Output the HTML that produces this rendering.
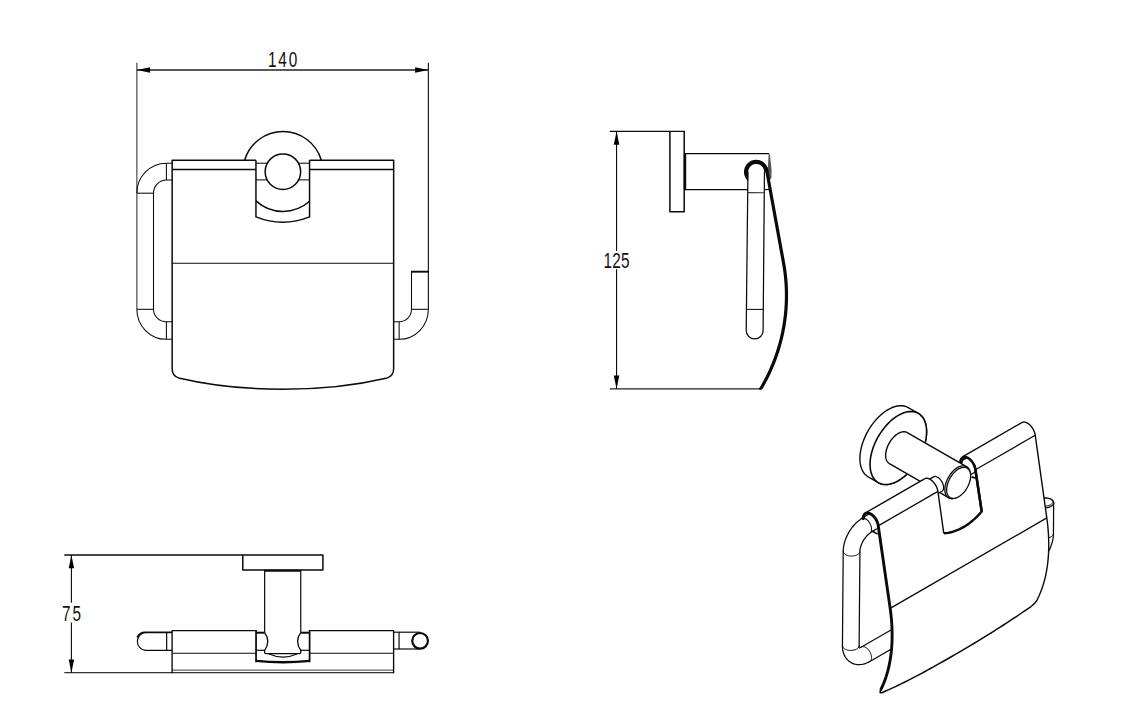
<!DOCTYPE html>
<html lang="en">
<head>
<meta charset="utf-8">
<title>Toilet paper holder with cover - dimensional drawing</title>
<style>
html,body{margin:0;padding:0;background:#fff;}
body{width:1122px;height:701px;overflow:hidden;}
svg{display:block;font-family:"Liberation Sans",sans-serif;}
</style>
</head>
<body>
<svg width="1122" height="701" viewBox="0 0 1122 701" stroke-linecap="butt" stroke-linejoin="round">
<rect width="1122" height="701" fill="#ffffff"/>
<g id="front-view">
<line x1="136.85" y1="62.8" x2="136.85" y2="193.2" stroke="#555" stroke-width="1.3" />
<line x1="428.35" y1="62.8" x2="428.35" y2="309.3" stroke="#0a0a0a" stroke-width="1.1" />
<line x1="136.85" y1="70" x2="428.35" y2="70" stroke="#222" stroke-width="1.3" />
<polygon points="136.85,70 150.05,67.3 150.05,72.7" fill="#000"/>
<polygon points="428.35,70 415.15,72.7 415.15,67.3" fill="#000"/>
<text transform="translate(283.5 66.7) scale(0.72 1)" text-anchor="middle" font-size="21.3" letter-spacing="2.5" fill="#111">140</text>
<path d="M244.67 160.2 A39.95 39.95 0 0 1 321.33 160.2" fill="none" stroke="#0a0a0a" stroke-width="1.5" />
<path d="M255.95 200.85 A39.95 39.95 0 0 0 309.55 201.3" fill="none" stroke="#0a0a0a" stroke-width="1.5" />
<circle cx="282.9" cy="171.65" r="17.75" fill="none" stroke="#0a0a0a" stroke-width="1.5"/>
<line x1="255.95" y1="163.2" x2="267.29" y2="163.2" stroke="#0a0a0a" stroke-width="1.05" />
<line x1="298.51" y1="163.2" x2="309.55" y2="163.2" stroke="#0a0a0a" stroke-width="1.05" />
<line x1="255.95" y1="179.9" x2="267.18" y2="179.9" stroke="#0a0a0a" stroke-width="1.05" />
<line x1="298.62" y1="179.9" x2="309.55" y2="179.9" stroke="#0a0a0a" stroke-width="1.05" />
<path d="M255.95 160.2 L172.15 160.2 L172.15 368.5 C172.15 373.5 174.2 376.6 178.6 377.9 C213 386 248 389.2 283 389.2 C318 389.2 353 386 387.2 377.9 C391.6 376.6 393.65 373.5 393.65 368.5 L393.65 160.2 L309.55 160.2" fill="none" stroke="#0a0a0a" stroke-width="1.5" />
<path d="M255.95 160.2 L255.95 216.9 Q282.75 227.6 309.55 216.9 L309.55 160.2" fill="none" stroke="#0a0a0a" stroke-width="1.5" />
<line x1="172.15" y1="169.5" x2="255.95" y2="169.5" stroke="#0a0a0a" stroke-width="1.5" />
<line x1="309.55" y1="169.5" x2="393.65" y2="169.5" stroke="#0a0a0a" stroke-width="1.5" />
<line x1="172.15" y1="263.25" x2="393.65" y2="263.25" stroke="#0a0a0a" stroke-width="1.2" />
<path d="M172.15 163.2 L166.4 163.2 A29.55 30 0 0 0 136.85 193.2" fill="none" stroke="#0a0a0a" stroke-width="1.05" />
<path d="M172.15 179.9 L166.4 179.9 A12.9 13.3 0 0 0 153.5 193.2 L153.5 309.3 A12.9 12.5 0 0 0 166.4 321.8 L172.15 321.8" fill="none" stroke="#0a0a0a" stroke-width="1.05" />
<line x1="136.85" y1="193.2" x2="136.85" y2="309.3" stroke="#555" stroke-width="1.3" />
<path d="M136.85 309.3 A29.55 30 0 0 0 166.4 339.3 L172.15 339.3" fill="none" stroke="#0a0a0a" stroke-width="1.05" />
<line x1="166.4" y1="163.2" x2="166.4" y2="179.9" stroke="#0a0a0a" stroke-width="1.05" />
<line x1="166.4" y1="321.8" x2="166.4" y2="339.3" stroke="#0a0a0a" stroke-width="1.05" />
<line x1="136.85" y1="193.2" x2="153.5" y2="193.2" stroke="#0a0a0a" stroke-width="1.05" />
<line x1="136.85" y1="309.3" x2="153.5" y2="309.3" stroke="#0a0a0a" stroke-width="1.05" />
<path d="M428.35 309.3 A29.2 30 0 0 1 399.15 339.3 L393.65 339.3" fill="none" stroke="#0a0a0a" stroke-width="1.05" />
<path d="M411.5 271.6 L411.5 309.3 A12.35 12.5 0 0 1 399.15 321.8 L393.65 321.8" fill="none" stroke="#0a0a0a" stroke-width="1.05" />
<line x1="399.15" y1="321.8" x2="399.15" y2="339.3" stroke="#0a0a0a" stroke-width="1.05" />
<line x1="411.5" y1="309.3" x2="428.35" y2="309.3" stroke="#0a0a0a" stroke-width="1.05" />
<line x1="411" y1="271.7" x2="428.85" y2="271.7" stroke="#0a0a0a" stroke-width="1.9" />
</g>
<g id="side-view">
<line x1="609.8" y1="131.4" x2="684.9" y2="131.4" stroke="#0a0a0a" stroke-width="1.4" />
<line x1="609.8" y1="388.85" x2="761.5" y2="388.85" stroke="#222" stroke-width="1.3" />
<line x1="616.55" y1="131.4" x2="616.55" y2="251" stroke="#0a0a0a" stroke-width="1.1" />
<line x1="616.55" y1="269.2" x2="616.55" y2="388.85" stroke="#0a0a0a" stroke-width="1.1" />
<polygon points="616.55,131.4 619.35,144.7 613.75,144.7" fill="#000"/>
<polygon points="616.55,388.85 613.75,375.55 619.35,375.55" fill="#000"/>
<text transform="translate(616.57 267.6) scale(0.72 1)" text-anchor="middle" font-size="21.3" letter-spacing="0.2" fill="#111">125</text>
<path d="M669.9 131.4 L669.9 211.7 L684.2 211.7 L684.2 131.4" fill="none" stroke="#0a0a0a" stroke-width="1.5" />
<line x1="684.2" y1="153.6" x2="769.2" y2="153.6" stroke="#0a0a0a" stroke-width="1.3" />
<line x1="684.2" y1="189.55" x2="747.7" y2="189.55" stroke="#0a0a0a" stroke-width="1.3" />
<line x1="764.4" y1="189.55" x2="769" y2="189.55" stroke="#0a0a0a" stroke-width="1.1" />
<line x1="685" y1="153.1" x2="685" y2="190.05" stroke="#0a0a0a" stroke-width="2.4" />
<polygon points="768.7,153.3 769.9,154.5 771.6,170 771.4,178 769.2,181 767.6,172 768.2,162" fill="#555"/>
<path d="M747.95 172 L746.2 330.5 A8.45 8.45 0 0 0 763.1 330.5 L764.45 172" fill="none" stroke="#0a0a0a" stroke-width="1.25" />
<line x1="747.7" y1="192.6" x2="764.3" y2="192.7" stroke="#333" stroke-width="1.05" />
<line x1="746.5" y1="309.4" x2="763.3" y2="309.4" stroke="#0a0a0a" stroke-width="1.05" />
<path d="M747.73 180.78 L747.02 180.04 L746.38 179.24 L745.81 178.4 L745.31 177.51 L744.89 176.58 L744.55 175.62 L744.29 174.63 L744.11 173.63 L744.02 172.61 L744.01 171.59 L744.08 170.57 L744.24 169.57 L744.49 168.58 L744.82 167.61 L745.22 166.68 L745.71 165.78 L746.26 164.92 L746.89 164.12 L747.58 163.37 L748.33 162.68 L749.14 162.05 L749.99 161.5 L750.89 161.02 L751.83 160.61 L752.79 160.28 L753.79 160.04 L754.79 159.88 L755.81 159.81 L756.83 159.82 L757.85 159.91 L758.85 160.09 L759.83 160.35 L760.79 160.7 L761.72 161.12 L762.61 161.62 L763.46 162.19 L764.25 162.83 L764.99 163.54 L765.66 164.3 L766.27 165.12 L766.81 165.98 L767.28 166.89 L767.67 167.84 L767.98 168.81 L768.2 169.8 L768.34 170.81 L768.4 171.83 L768.37 172.85 L764.2 172 L764.18 171.48 L764.13 170.96 L764.05 170.44 L763.93 169.93 L763.78 169.43 L763.59 168.94 L763.37 168.46 L763.13 168 L762.85 167.56 L762.55 167.13 L762.21 166.73 L761.86 166.34 L761.47 165.99 L761.07 165.65 L760.64 165.35 L760.2 165.07 L759.74 164.83 L759.26 164.61 L758.77 164.42 L758.27 164.27 L757.76 164.15 L757.24 164.07 L756.72 164.02 L756.2 164 L755.68 164.02 L755.16 164.07 L754.64 164.15 L754.13 164.27 L753.63 164.42 L753.14 164.61 L752.66 164.83 L752.2 165.07 L751.76 165.35 L751.33 165.65 L750.93 165.99 L750.54 166.34 L750.19 166.73 L749.85 167.13 L749.55 167.56 L749.27 168 L749.03 168.46 L748.81 168.94 L748.62 169.43 L748.47 169.93 L748.35 170.44 L748.27 170.96 L748.22 171.48 L748.2 172 L748.1 180.6Z" fill="#0a0a0a"/>
<clipPath id="sclip"><rect x="700" y="100" width="120" height="289.45"/></clipPath>
<path d="M766.35 168.5 L783.6 263.2 L784.14 266.36 L784.62 269.52 L785.05 272.68 L785.42 275.84 L785.73 279 L785.99 282.16 L786.2 285.32 L786.34 288.48 L786.44 291.64 L786.48 294.8 L786.46 297.96 L786.39 301.12 L786.26 304.28 L786.08 307.44 L785.85 310.6 L785.55 313.76 L785.21 316.92 L784.8 320.08 L784.34 323.24 L783.83 326.4 L783.25 329.56 L782.62 332.72 L781.93 335.88 L781.18 339.04 L780.37 342.2 L779.5 345.36 L778.57 348.52 L777.58 351.68 L776.52 354.84 L775.4 358 L774.21 361.16 L772.95 364.32 L771.63 367.48 L770.23 370.64 L768.76 373.8 L767.22 376.96 L765.6 380.12 L763.9 383.28 L762.11 386.44 L760.25 389.6" fill="none" stroke="#0a0a0a" stroke-width="3.2" clip-path="url(#sclip)" stroke-linecap="round"/>
</g>
<g id="top-view">
<line x1="64.3" y1="555" x2="243" y2="555" stroke="#0a0a0a" stroke-width="1.35" />
<line x1="64.3" y1="672.65" x2="393.6" y2="672.65" stroke="#333" stroke-width="1.3" />
<line x1="172.1" y1="670.2" x2="393.6" y2="670.2" stroke="#666" stroke-width="1.2" />
<line x1="71.4" y1="555" x2="71.4" y2="602.7" stroke="#0a0a0a" stroke-width="1.1" />
<line x1="71.4" y1="622.4" x2="71.4" y2="672.65" stroke="#0a0a0a" stroke-width="1.1" />
<polygon points="71.4,555 74.1,568.2 68.7,568.2" fill="#000"/>
<polygon points="71.4,672.65 68.7,659.45 74.1,659.45" fill="#000"/>
<text transform="translate(72.4 620.9) scale(0.72 1)" text-anchor="middle" font-size="21.3" letter-spacing="2.5" fill="#111">75</text>
<rect x="242.8" y="555" width="80.1" height="14.95" fill="none" stroke="#0a0a0a" stroke-width="1.5"/>
<line x1="264.65" y1="570" x2="264.65" y2="632.8" stroke="#0a0a0a" stroke-width="1.2" />
<line x1="300.75" y1="570" x2="300.75" y2="632.8" stroke="#0a0a0a" stroke-width="1.2" />
<line x1="264.65" y1="570.8" x2="300.75" y2="570.8" stroke="#0a0a0a" stroke-width="1.9" />
<path d="M256.05 630.55 L172.1 630.55 L172.1 673.15" fill="none" stroke="#0a0a0a" stroke-width="1.35" />
<path d="M309.6 630.55 L393.6 630.55 L393.6 673.15" fill="none" stroke="#0a0a0a" stroke-width="1.35" />
<line x1="172.1" y1="653.25" x2="256.05" y2="653.25" stroke="#0a0a0a" stroke-width="1.2" />
<line x1="309.6" y1="653.25" x2="393.6" y2="653.25" stroke="#0a0a0a" stroke-width="1.2" />
<line x1="256.05" y1="629.95" x2="256.05" y2="662.2" stroke="#0a0a0a" stroke-width="1.75" />
<line x1="309.6" y1="629.95" x2="309.6" y2="662.2" stroke="#0a0a0a" stroke-width="1.75" />
<path d="M256.05 660.9 Q283 663.6 309.6 660.9" fill="none" stroke="#0a0a0a" stroke-width="2.3" />
<line x1="256.05" y1="632.7" x2="264.65" y2="632.7" stroke="#0a0a0a" stroke-width="2" />
<line x1="300.75" y1="632.7" x2="309.6" y2="632.7" stroke="#0a0a0a" stroke-width="2" />
<line x1="256.05" y1="650.3" x2="264.65" y2="650.3" stroke="#0a0a0a" stroke-width="1.2" />
<line x1="300.75" y1="650.3" x2="309.6" y2="650.3" stroke="#0a0a0a" stroke-width="1.2" />
<path d="M264.65 632.7 Q271.05 641.4 264.65 650.3 L264.65 652.6 Q264.65 653.6 265.85 653.6 L299.55 653.6 Q300.75 653.6 300.75 652.6 L300.75 650.3 Q294.35 641.4 300.75 632.7" fill="none" stroke="#0a0a0a" stroke-width="1.3" />
<path d="M269 654 Q283 660.2 297 654" fill="none" stroke="#0a0a0a" stroke-width="1.1" />
<path d="M172.1 632.5 L145.4 632.5 A9 9 0 0 0 145.4 650.4 L172.1 650.4" fill="none" stroke="#0a0a0a" stroke-width="1.2" />
<path d="M172.1 632.4 L146 632.4 A9 9 0 0 0 137.2 637.5" fill="none" stroke="#0a0a0a" stroke-width="1.9" />
<line x1="166.65" y1="632.4" x2="166.65" y2="650.4" stroke="#0a0a0a" stroke-width="1.2" />
<line x1="393.6" y1="632.2" x2="420" y2="632.2" stroke="#0a0a0a" stroke-width="1.2" />
<line x1="393.6" y1="649" x2="420" y2="649" stroke="#0a0a0a" stroke-width="1.2" />
<line x1="399.05" y1="632.2" x2="399.05" y2="649" stroke="#0a0a0a" stroke-width="1.2" />
<circle cx="420.1" cy="640.85" r="7.85" fill="#fff" stroke="#0a0a0a" stroke-width="2.2"/>
</g>
<g id="iso-view">
<path d="M878.51 518.26 L876.16 519.61 L873.82 520.97 L871.47 522.32 L869.12 523.68 L866.77 525.03 L865.79 525.88 L864.81 526.56 L863.83 527.31 L862.87 528.12 L861.92 528.99 L861 529.92 L860.1 530.91 L859.22 531.94 L858.38 533.03 L857.57 534.15 L856.81 535.31 L856.08 536.5 L855.4 537.71 L854.77 538.95 L854.18 540.2 L853.66 541.46 L853.18 542.73 L852.77 543.99 L852.41 545.26 L852.12 546.5 L851.88 547.74 L851.71 548.95 L851.61 550.13 L851.56 551.28 L850.8 645.6 L850.79 646.73 L850.88 647.8 L851.03 648.82 L851.24 649.8 L851.52 650.72 L851.86 651.58 L852.26 652.37 L852.71 653.1 L853.23 653.77 L853.79 654.35 L854.41 654.87 L855.08 655.31 L855.79 655.67 L856.55 655.94 L857.34 656.14 L858.17 656.26 L859.04 656.29 L859.93 656.24 L860.85 656.1 L861.79 655.89 L862.75 655.59 L863.72 655.21 L864.7 654.76 L865.68 654.23 L1030.3 559.19 L1031.26 558.6 L1032.21 557.94 L1033.16 557.21 L1034.09 556.43 L1035.01 555.58 L1035.91 554.67 L1036.79 553.71 L1037.64 552.71 L1038.46 551.66 L1039.24 550.57 L1039.99 549.44 L1040.69 548.28 L1041.35 547.1 L1041.97 545.9 L1042.53 544.69 L1043.05 543.46 L1043.51 542.23 L1043.91 541 L1044.26 539.77 L1044.54 538.56 L1044.77 537.36 L1044.93 536.18 L1045.04 535.03 L1045.08 533.92 L1045.34 502.8" fill="none" stroke="#0a0a0a" stroke-width="17.95" stroke-linejoin="round"/>
<path d="M878.51 518.26 L876.16 519.61 L873.82 520.97 L871.47 522.32 L869.12 523.68 L866.77 525.03 L865.79 525.88 L864.81 526.56 L863.83 527.31 L862.87 528.12 L861.92 528.99 L861 529.92 L860.1 530.91 L859.22 531.94 L858.38 533.03 L857.57 534.15 L856.81 535.31 L856.08 536.5 L855.4 537.71 L854.77 538.95 L854.18 540.2 L853.66 541.46 L853.18 542.73 L852.77 543.99 L852.41 545.26 L852.12 546.5 L851.88 547.74 L851.71 548.95 L851.61 550.13 L851.56 551.28 L850.8 645.6 L850.79 646.73 L850.88 647.8 L851.03 648.82 L851.24 649.8 L851.52 650.72 L851.86 651.58 L852.26 652.37 L852.71 653.1 L853.23 653.77 L853.79 654.35 L854.41 654.87 L855.08 655.31 L855.79 655.67 L856.55 655.94 L857.34 656.14 L858.17 656.26 L859.04 656.29 L859.93 656.24 L860.85 656.1 L861.79 655.89 L862.75 655.59 L863.72 655.21 L864.7 654.76 L865.68 654.23 L1030.3 559.19 L1031.26 558.6 L1032.21 557.94 L1033.16 557.21 L1034.09 556.43 L1035.01 555.58 L1035.91 554.67 L1036.79 553.71 L1037.64 552.71 L1038.46 551.66 L1039.24 550.57 L1039.99 549.44 L1040.69 548.28 L1041.35 547.1 L1041.97 545.9 L1042.53 544.69 L1043.05 543.46 L1043.51 542.23 L1043.91 541 L1044.26 539.77 L1044.54 538.56 L1044.77 537.36 L1044.93 536.18 L1045.04 535.03 L1045.08 533.92 L1045.34 502.8" fill="none" stroke="#fff" stroke-width="15.45" stroke-linejoin="round" stroke-linecap="square"/>
<path d="M1053.43 533.43 L1053.36 534.06 L1053.15 534.68 L1052.8 535.27 L1052.31 535.84 L1051.71 536.36 L1050.99 536.84 L1050.17 537.25 L1049.26 537.6 L1048.28 537.88 L1047.24 538.09 L1046.17 538.21 L1045.08 538.25 L1043.99 538.21 L1042.92 538.09 L1041.89 537.88 L1040.91 537.6 L1040 537.25 L1039.18 536.84 L1038.46 536.36 L1037.85 535.84 L1037.37 535.27 L1037.02 534.68 L1036.8 534.06 L1036.73 533.43" fill="none" stroke="#0a0a0a" stroke-width="1" />
<path d="M1051.25 499.39 L1051.97 499.86 L1052.57 500.39 L1053.06 500.95 L1053.41 501.55 L1053.62 502.17 L1053.69 502.8 L1053.62 503.43 L1053.41 504.04 L1053.06 504.64 L1052.57 505.21 L1051.97 505.73 L1051.25 506.21 L1050.42 506.62 L1049.52 506.97 L1048.54 507.25 L1047.5 507.45 L1046.43 507.58 L1045.34 507.62 L1044.25 507.58 L1043.18 507.45 L1042.15 507.25 L1041.17 506.97 L1040.26 506.62 L1039.44 506.21 L1038.72 505.73 L1038.11 505.21 L1037.63 504.64 L1037.28 504.04 L1037.06 503.43 L1036.99 502.8 L1037.06 502.17 L1037.28 501.55 L1037.63 500.95 L1038.11 500.39 L1038.72 499.86 L1039.44 499.39 L1040.26 498.97 L1041.17 498.62 L1042.15 498.34 L1043.18 498.14 L1044.25 498.02 L1045.34 497.98 L1046.43 498.02 L1047.5 498.14 L1048.54 498.34 L1049.52 498.62 L1050.42 498.97 L1051.25 499.39Z" fill="#fff" stroke="#0a0a0a" stroke-width="1.4" />
<path d="M1052.96 501.11 L1052.99 501.59 L1052.93 502.07 L1052.77 502.55 L1052.53 503.01 L1052.2 503.45 L1051.79 503.87 L1051.31 504.26 L1050.75 504.62 L1050.13 504.94 L1049.45 505.22 L1048.72 505.46 L1047.96 505.65 L1047.16 505.79 L1046.34 505.88 L1045.51 505.91 L1044.67 505.9 L1043.85 505.83 L1043.04 505.71 L1042.26 505.54 L1041.52 505.32 L1040.82 505.06 L1040.17 504.75 L1039.59 504.41 L1039.07 504.03" fill="none" stroke="#0a0a0a" stroke-width="1" />
<path d="M908.2 407.56 L907.19 407.03 L906.14 406.59 L905.05 406.24 L903.91 405.97 L902.74 405.79 L901.53 405.7 L900.29 405.69 L899.02 405.78 L897.73 405.95 L896.41 406.21 L895.07 406.55 L893.72 406.98 L892.35 407.5 L890.97 408.1 L889.59 408.78 L888.2 409.54 L886.81 410.38 L885.43 411.3 L884.05 412.29 L882.68 413.35 L881.33 414.49 L879.99 415.69 L878.67 416.95 L877.38 418.28 L876.11 419.66 L874.87 421.09 L873.66 422.58 L872.49 424.12 L871.35 425.7 L870.26 427.31 L869.21 428.97 L868.2 430.65 L867.24 432.37 L866.34 434.1 L865.48 435.86 L864.68 437.63 L863.94 439.42 L863.26 441.21 L862.63 443 L862.07 444.79 L861.57 446.57 L861.13 448.35 L860.76 450.1 L860.46 451.84 L860.22 453.56 L860.05 455.25 L859.95 456.91 L859.92 458.53 L859.95 460.11 L860.05 461.65 L860.22 463.15 L860.46 464.59 L860.76 465.98 L861.13 467.31 L861.57 468.58 L862.07 469.79 L862.63 470.93 L863.26 472 L863.94 473 L864.68 473.92 L865.48 474.77 L866.34 475.54 L867.24 476.23 L868.2 476.84 L878.31 482.68 L879.32 483.2 L880.37 483.64 L881.46 484 L882.6 484.27 L883.77 484.45 L884.98 484.54 L886.22 484.54 L887.49 484.46 L888.78 484.29 L890.1 484.03 L891.44 483.69 L892.79 483.26 L894.16 482.74 L895.54 482.14 L896.92 481.46 L898.31 480.7 L899.7 479.86 L901.08 478.94 L902.46 477.95 L903.83 476.88 L905.18 475.75 L906.52 474.55 L907.84 473.29 L909.14 471.96 L910.4 470.58 L911.64 469.14 L912.85 467.66 L914.03 466.12 L915.16 464.54 L916.26 462.92 L917.31 461.27 L918.31 459.58 L919.27 457.87 L920.18 456.13 L921.03 454.38 L921.83 452.6 L922.57 450.82 L923.26 449.03 L923.88 447.24 L924.44 445.45 L924.94 443.67 L925.38 441.89 L925.75 440.13 L926.05 438.39 L926.29 436.68 L926.46 434.99 L926.56 433.33 L926.6 431.71 L926.56 430.13 L926.46 428.59 L926.29 427.09 L926.05 425.65 L925.75 424.26 L925.38 422.93 L924.94 421.66 L924.44 420.45 L923.88 419.31 L923.26 418.24 L922.57 417.24 L921.83 416.32 L921.03 415.47 L920.18 414.7 L919.27 414.01 L918.31 413.4Z" fill="#fff" stroke="#0a0a0a" stroke-width="1.4" />
<path d="M926.6 431.71 L926.46 428.59 L926.05 425.65 L925.38 422.93 L924.44 420.45 L923.26 418.24 L921.83 416.32 L920.18 414.7 L918.31 413.4 L916.26 412.43 L914.03 411.81 L911.64 411.54 L909.14 411.61 L906.52 412.04 L903.83 412.82 L901.08 413.93 L898.31 415.38 L895.54 417.14 L892.79 419.19 L890.1 421.52 L887.49 424.11 L884.98 426.93 L882.6 429.95 L880.37 433.15 L878.31 436.49 L876.45 439.94 L874.79 443.47 L873.37 447.04 L872.18 450.63 L871.25 454.18 L870.57 457.68 L870.16 461.09 L870.03 464.37 L870.16 467.49 L870.57 470.43 L871.25 473.15 L872.18 475.62 L873.37 477.84 L874.79 479.76 L876.45 481.38 L878.31 482.68 L880.37 483.64 L882.6 484.27 L884.98 484.54 L887.49 484.46 L890.1 484.03 L892.79 483.26 L895.54 482.14 L898.31 480.7 L901.08 478.94 L903.83 476.88 L906.52 474.55 L909.14 471.96 L911.64 469.14 L914.03 466.12 L916.26 462.92 L918.31 459.58 L920.18 456.13 L921.83 452.6 L923.26 449.03 L924.44 445.45 L925.38 441.89 L926.05 438.39 L926.46 434.99 L926.6 431.71Z" fill="#fff" stroke="#0a0a0a" stroke-width="1.6" />
<path d="M945.05 470.2 L973.33 453.87 L981.68 468.33 L953.4 484.66Z" fill="#fff" stroke="#0a0a0a" stroke-width="1.25" />
<path d="M962.43 456.87 L962.75 456.71 L963.08 456.58 L963.42 456.48 L963.78 456.4 L964.15 456.36 L964.53 456.35 L964.92 456.37 L965.32 456.42 L965.73 456.49 L966.15 456.6 L966.57 456.74 L967 456.91 L967.43 457.11 L967.86 457.33 L968.29 457.58 L968.72 457.86 L969.15 458.17 L969.58 458.5 L970 458.85 L970.42 459.23 L970.82 459.63 L971.22 460.05 L971.61 460.48 L971.99 460.94 L972.36 461.42 L972.72 461.9 L973.06 462.41 L973.39 462.92 L973.7 463.45 L973.99 463.98 L974.26 464.53 L974.52 465.08 L974.76 465.63 L974.98 466.19 L975.17 466.74 L975.35 467.3 L975.51 467.86 L975.64 468.41 L975.75 468.95 L975.83 469.49 L984.81 533.66 L1044.21 499.37 L1035.23 435.2 L1035.14 434.66 L1035.03 434.12 L1034.9 433.56 L1034.75 433.01 L1034.57 432.45 L1034.38 431.89 L1034.16 431.34 L1033.92 430.78 L1033.66 430.23 L1033.39 429.69 L1033.09 429.16 L1032.78 428.63 L1032.46 428.11 L1032.12 427.61 L1031.76 427.12 L1031.39 426.65 L1031.01 426.19 L1030.62 425.75 L1030.22 425.33 L1029.81 424.93 L1029.4 424.56 L1028.98 424.2 L1028.55 423.87 L1028.12 423.57 L1027.69 423.29 L1027.26 423.04 L1026.83 422.81 L1026.4 422.62 L1025.97 422.45 L1025.55 422.31 L1025.13 422.2 L1024.72 422.12 L1024.32 422.07 L1023.93 422.06 L1023.55 422.07 L1023.18 422.11 L1022.82 422.18 L1022.47 422.29 L1022.14 422.42 L1021.83 422.58Z" fill="#fff" stroke="none" stroke-width="0" />
<path d="M962.43 456.87 L1021.83 422.58" fill="none" stroke="#0a0a0a" stroke-width="1.4" />
<path d="M975.83 469.49 L1035.23 435.2" fill="none" stroke="#0a0a0a" stroke-width="1.3" />
<path d="M961.06 465.48 L960.87 464.69 L960.73 463.92 L960.65 463.17 L960.61 462.44 L960.62 461.73 L960.69 461.07 L960.81 460.43 L960.97 459.85 L961.19 459.3 L961.45 458.81 L961.75 458.37 L962.1 457.99 L962.49 457.67 L962.92 457.4 L963.39 457.2 L963.88 457.07 L964.41 457 L964.96 456.99 L965.53 457.06 L966.11 457.18 L966.71 457.37 L967.32 457.63 L967.94 457.95 L968.55 458.32 L969.16 458.75 L969.77 459.24 L970.36 459.78 L970.94 460.36 L971.49 460.98 L972.02 461.65 L972.53 462.35 L973 463.07 L973.44 463.82 L973.85 464.59 L974.21 465.38 L974.53 466.17 L974.8 466.96 L975.03 467.76 L975.21 468.54 L975.35 469.31 L981.7 511.45" fill="none" stroke="#0a0a0a" stroke-width="2.5" />
<path d="M961.06 463.25 L961.03 462.53 L961.06 461.84 L961.14 461.19 L961.27 460.58 L961.45 460.01 L961.69 459.49 L961.97 459.03 L962.3 458.63 L962.67 458.28 L963.08 458 L963.53 457.78 L964.02 457.63 L964.53 457.55 L965.07 457.54 L965.64 457.59 L966.22 457.72" fill="none" stroke="#0a0a0a" stroke-width="3.4" />
<path d="M907.26 432.54 L906.81 432.3 L906.34 432.1 L905.85 431.95 L905.34 431.83 L904.82 431.75 L904.28 431.7 L903.72 431.7 L903.16 431.74 L902.58 431.82 L901.99 431.93 L901.39 432.09 L900.78 432.28 L900.17 432.51 L899.55 432.78 L898.93 433.08 L898.31 433.42 L897.69 433.8 L897.07 434.21 L896.45 434.65 L895.84 435.13 L895.24 435.64 L894.64 436.17 L894.05 436.74 L893.47 437.33 L892.9 437.95 L892.35 438.59 L891.8 439.26 L891.28 439.95 L890.77 440.65 L890.28 441.38 L889.81 442.12 L889.36 442.87 L888.93 443.64 L888.53 444.41 L888.15 445.2 L887.79 445.99 L887.46 446.79 L887.15 447.59 L886.87 448.4 L886.62 449.2 L886.39 449.99 L886.2 450.79 L886.03 451.58 L885.9 452.35 L885.79 453.12 L885.72 453.88 L885.67 454.62 L885.65 455.35 L885.67 456.05 L885.72 456.74 L885.79 457.41 L885.9 458.06 L886.03 458.68 L886.2 459.27 L886.39 459.84 L886.62 460.38 L886.87 460.89 L887.15 461.37 L887.46 461.82 L887.79 462.23 L888.15 462.61 L888.53 462.96 L888.93 463.27 L889.36 463.54 L948.55 497.71 L949 497.95 L949.47 498.14 L949.96 498.3 L950.46 498.42 L950.99 498.5 L951.53 498.54 L952.09 498.54 L952.65 498.51 L953.23 498.43 L953.82 498.32 L954.42 498.16 L955.03 497.97 L955.64 497.74 L956.26 497.47 L956.88 497.16 L957.5 496.82 L958.12 496.45 L958.74 496.04 L959.35 495.59 L959.97 495.12 L960.57 494.61 L961.17 494.07 L961.76 493.51 L962.34 492.91 L962.91 492.3 L963.46 491.65 L964 490.99 L964.53 490.3 L965.04 489.59 L965.53 488.87 L966 488.13 L966.45 487.38 L966.88 486.61 L967.28 485.83 L967.66 485.05 L968.02 484.25 L968.35 483.45 L968.66 482.65 L968.94 481.85 L969.19 481.05 L969.41 480.25 L969.61 479.46 L969.77 478.67 L969.91 477.89 L970.02 477.12 L970.09 476.37 L970.14 475.63 L970.15 474.9 L970.14 474.19 L970.09 473.5 L970.02 472.84 L969.91 472.19 L969.77 471.57 L969.61 470.97 L969.41 470.4 L969.19 469.86 L968.94 469.35 L968.66 468.87 L968.35 468.43 L968.02 468.01 L967.66 467.63 L967.28 467.29 L966.88 466.98 L966.45 466.71Z" fill="#fff" stroke="#0a0a0a" stroke-width="1.4" />
<path d="M970.15 474.9 L970.09 473.5 L969.91 472.19 L969.61 470.97 L969.19 469.86 L968.66 468.87 L968.02 468.01 L967.28 467.29 L966.45 466.71 L965.53 466.27 L964.53 466 L963.46 465.87 L962.34 465.91 L961.17 466.1 L959.97 466.45 L958.74 466.95 L957.5 467.59 L956.26 468.38 L955.03 469.3 L953.82 470.34 L952.65 471.5 L951.53 472.76 L950.46 474.12 L949.47 475.55 L948.55 477.04 L947.71 478.59 L946.97 480.16 L946.33 481.76 L945.8 483.37 L945.38 484.96 L945.08 486.52 L944.9 488.05 L944.84 489.52 L944.9 490.91 L945.08 492.23 L945.38 493.44 L945.8 494.55 L946.33 495.54 L946.97 496.4 L947.71 497.13 L948.55 497.71 L949.47 498.14 L950.46 498.42 L951.53 498.54 L952.65 498.51 L953.82 498.32 L955.03 497.97 L956.26 497.47 L957.5 496.82 L958.74 496.04 L959.97 495.12 L961.17 494.07 L962.34 492.91 L963.46 491.65 L964.53 490.3 L965.53 488.87 L966.45 487.38 L967.28 485.83 L968.02 484.25 L968.66 482.65 L969.19 481.05 L969.61 479.46 L969.91 477.89 L970.09 476.37 L970.15 474.9Z" fill="#fff" stroke="#0a0a0a" stroke-width="1.3" />
<path d="M970.65 475.92 L970.59 474.59 L970.42 473.35 L970.13 472.19 L969.73 471.14 L969.23 470.2 L968.62 469.38 L967.92 468.69 L967.13 468.14 L966.25 467.73 L965.31 467.46 L964.29 467.35 L963.23 467.38 L962.12 467.56 L960.97 467.89 L959.81 468.37 L958.63 468.98 L957.45 469.73 L956.28 470.6 L955.14 471.59 L954.03 472.69 L952.96 473.89 L951.95 475.18 L951 476.53 L950.13 477.95 L949.34 479.42 L948.63 480.92 L948.03 482.44 L947.52 483.96 L947.12 485.47 L946.84 486.96 L946.67 488.41 L946.61 489.8 L946.67 491.13 L946.84 492.38 L947.12 493.53 L947.52 494.59 L948.03 495.53 L948.63 496.34 L949.34 497.03 L950.13 497.58 L951 497.99 L951.95 498.26 L952.96 498.37 L954.03 498.34 L955.14 498.16 L956.28 497.83 L957.45 497.36 L958.63 496.74 L959.81 495.99 L960.97 495.12 L962.12 494.13 L963.23 493.03 L964.29 491.83 L965.31 490.55 L966.25 489.19 L967.13 487.77 L967.92 486.3 L968.62 484.8 L969.23 483.28 L969.73 481.76 L970.13 480.25 L970.42 478.76 L970.59 477.32 L970.65 475.92Z" fill="#fff" stroke="#0a0a0a" stroke-width="1.3" />
<path d="M971.6 476.9 L975.6 478.2" fill="none" stroke="#0a0a0a" stroke-width="1.8" />
<path d="M916.76 486.53 L933.52 476.85 L933.95 476.65 L934.42 476.52 L934.91 476.47 L935.44 476.48 L935.98 476.57 L936.55 476.73 L937.12 476.97 L937.7 477.27 L938.28 477.64 L938.85 478.06 L939.41 478.55 L939.96 479.09 L940.48 479.68 L940.98 480.31 L941.44 480.98 L941.87 481.68 L942.26 482.4 L942.61 483.13 L942.9 483.88 L943.15 484.63 L943.35 485.37 L943.49 486.1 L943.57 486.81 L943.6 487.5 L943.57 488.15 L943.49 488.76 L943.35 489.33 L943.15 489.84 L942.9 490.31 L942.61 490.71 L942.26 491.05 L941.87 491.32 L925.11 500.99Z" fill="#fff" stroke="#0a0a0a" stroke-width="1.25" />
<path d="M865.21 513.01 L924.5 478.78 L924.81 478.61 L925.14 478.48 L925.48 478.38 L925.84 478.31 L926.21 478.26 L926.59 478.25 L926.99 478.27 L927.39 478.32 L927.8 478.4 L928.21 478.51 L928.64 478.64 L929.06 478.81 L929.49 479.01 L929.92 479.23 L930.36 479.49 L930.79 479.76 L931.22 480.07 L931.64 480.4 L932.06 480.75 L932.48 481.13 L932.89 481.53 L933.29 481.95 L933.68 482.39 L934.06 482.84 L934.43 483.32 L934.78 483.81 L935.12 484.31 L935.45 484.83 L935.76 485.35 L936.05 485.89 L936.33 486.43 L936.59 486.98 L936.82 487.53 L937.04 488.09 L937.24 488.65 L937.41 489.2 L937.57 489.76 L937.7 490.31 L937.81 490.86 L937.9 491.39 L943.77 533.35 L945.86 533.12 L947.87 532.84 L949.86 532.46 L951.84 531.98 L953.81 531.41 L955.77 530.74 L957.71 529.98 L959.64 529.12 L961.55 528.17 L963.45 527.13 L965.34 525.98 L967.22 524.75 L969.08 523.42 L970.93 521.99 L972.76 520.47 L974.58 518.85 L976.39 517.14 L978.19 515.33 L979.97 513.43 L981.74 511.43 L1041.1 477.16 L1041.57 480.53 L1042.04 483.89 L1042.51 487.26 L1042.98 490.63 L1043.46 493.99 L1043.93 497.36 L1044.4 500.72 L1044.87 504.09 L1045.34 507.46 L1045.81 510.82 L1046.28 514.19 L1046.75 517.56 L1047.2 520.91 L1047.59 524.23 L1047.92 527.52 L1048.2 530.77 L1048.42 533.99 L1048.58 537.18 L1048.69 540.34 L1048.74 543.46 L1048.74 546.55 L1048.68 549.61 L1048.56 552.64 L1048.39 555.64 L1048.16 558.6 L1047.88 561.53 L1047.54 564.43 L1047.14 567.29 L1046.68 570.12 L1046.17 572.92 L1045.59 575.68 L1044.96 578.41 L1044.26 581.1 L1043.5 583.76 L1042.68 586.38 L1041.8 588.97 L1040.85 591.51 L1039.83 594.02 L1038.74 596.48 L1037.58 598.91 L1037.18 599.78 L1036.62 600.7 L1035.99 601.58 L1035.3 602.45 L1034.56 603.3 L1033.75 604.13 L1032.89 604.94 L1031.96 605.74 L1030.98 606.53 L1029.93 607.31 L1026.54 609.65 L1023.16 611.97 L1019.79 614.25 L1016.42 616.51 L1013.07 618.73 L1009.73 620.93 L1006.39 623.11 L1003.07 625.25 L999.76 627.38 L996.47 629.47 L993.18 631.55 L989.91 633.59 L986.66 635.62 L983.41 637.62 L980.18 639.6 L976.97 641.56 L973.76 643.5 L970.58 645.41 L967.4 647.31 L964.24 649.18 L961.1 651.04 L957.97 652.87 L954.85 654.69 L951.75 656.48 L948.67 658.26 L945.6 660.01 L942.54 661.75 L939.5 663.47 L936.48 665.16 L933.47 666.84 L930.48 668.49 L927.5 670.12 L924.55 671.72 L921.61 673.3 L918.69 674.86 L915.79 676.39 L912.91 677.89 L910.04 679.37 L907.2 680.82 L904.37 682.24 L901.56 683.63 L898.77 684.99 L896 686.32 L893.25 687.62 L890.52 688.88 L887.8 690.11 L885.11 691.31 L882.43 692.47 L881.7 692.71 L881.12 692.83 L880.67 692.82 L880.35 692.69 L880.16 692.44 L880.1 692.06 L880.16 691.55 L880.34 690.92 L880.65 690.16 L881.06 689.27 L881.77 687.65 L882.55 685.94 L883.3 684.22 L884.01 682.47 L884.69 680.7 L885.34 678.92 L885.96 677.12 L886.54 675.3 L887.09 673.46 L887.62 671.61 L888.11 669.73 L888.57 667.84 L889.01 665.93 L889.41 664.01 L889.79 662.07 L890.13 660.11 L890.45 658.14 L890.74 656.15 L891 654.14 L891.24 652.12 L891.44 650.08 L891.62 648.03 L891.77 645.96 L891.9 643.87 L892 641.77 L892.07 639.65 L892.11 637.52 L892.12 635.37 L892.11 633.21 L892.07 631.03 L892.01 628.83 L891.91 626.62 L891.79 624.39 L891.65 622.15 L891.47 619.89 L891.27 617.62 L891.04 615.33 L890.78 613.02 L890.49 610.7 L890.18 608.36 L878.61 525.63 L878.52 525.09 L878.41 524.54 L878.28 523.99 L878.12 523.44 L877.95 522.88 L877.75 522.32 L877.53 521.76 L877.29 521.21 L877.04 520.66 L876.76 520.12 L876.47 519.58 L876.16 519.06 L875.83 518.54 L875.49 518.04 L875.14 517.55 L874.77 517.08 L874.39 516.62 L874 516.18 L873.6 515.76 L873.19 515.36 L872.77 514.98 L872.35 514.63 L871.93 514.3 L871.5 514 L871.07 513.72 L870.63 513.46 L870.2 513.24 L869.77 513.04 L869.35 512.88 L868.92 512.74 L868.51 512.63 L868.1 512.55 L867.7 512.5 L867.3 512.48 L866.92 512.49 L866.55 512.54 L866.19 512.61 L865.85 512.71 L865.52 512.85 L865.21 513.01Z" fill="#fff" stroke="none" stroke-width="0" />
<path d="M865.21 513.01 L924.5 478.78" fill="none" stroke="#0a0a0a" stroke-width="1.4" />
<path d="M924.5 478.78 L924.81 478.61 L925.14 478.48 L925.48 478.38 L925.84 478.31 L926.21 478.26 L926.59 478.25 L926.99 478.27 L927.39 478.32 L927.8 478.4 L928.21 478.51 L928.64 478.64 L929.06 478.81 L929.49 479.01 L929.92 479.23 L930.36 479.49 L930.79 479.76 L931.22 480.07 L931.64 480.4 L932.06 480.75 L932.48 481.13 L932.89 481.53 L933.29 481.95 L933.68 482.39 L934.06 482.84 L934.43 483.32 L934.78 483.81 L935.12 484.31 L935.45 484.83 L935.76 485.35 L936.05 485.89 L936.33 486.43 L936.59 486.98 L936.82 487.53 L937.04 488.09 L937.24 488.65 L937.41 489.2 L937.57 489.76 L937.7 490.31 L937.81 490.86 L937.9 491.39 L943.77 533.35" fill="none" stroke="#0a0a0a" stroke-width="1.4" />
<path d="M878.61 525.63 L937.9 491.39" fill="none" stroke="#0a0a0a" stroke-width="1.3" />
<path d="M890.18 608.36 L1046.8 517.93" fill="none" stroke="#0a0a0a" stroke-width="1.3" />
<path d="M1021.83 422.58 L1022.14 422.42 L1022.47 422.29 L1022.82 422.18 L1023.18 422.11 L1023.55 422.07 L1023.93 422.06 L1024.32 422.07 L1024.72 422.12 L1025.13 422.2 L1025.55 422.31 L1025.97 422.45 L1026.4 422.62 L1026.83 422.81 L1027.26 423.04 L1027.69 423.29 L1028.12 423.57 L1028.55 423.87 L1028.98 424.2 L1029.4 424.56 L1029.81 424.93 L1030.22 425.33 L1030.62 425.75 L1031.01 426.19 L1031.39 426.65 L1031.76 427.12 L1032.12 427.61 L1032.46 428.11 L1032.78 428.63 L1033.09 429.16 L1033.39 429.69 L1033.66 430.23 L1033.92 430.78 L1034.16 431.34 L1034.38 431.89 L1034.57 432.45 L1034.75 433.01 L1034.9 433.56 L1035.03 434.12 L1035.14 434.66 L1035.23 435.2 L1046.8 517.93 L1047.12 520.27 L1047.41 522.59 L1047.66 524.9 L1047.89 527.19 L1048.1 529.46 L1048.27 531.72 L1048.42 533.97 L1048.54 536.19 L1048.63 538.4 L1048.7 540.6 L1048.74 542.78 L1048.75 544.94 L1048.73 547.09 L1048.69 549.23 L1048.62 551.34 L1048.52 553.44 L1048.4 555.53 L1048.25 557.6 L1048.07 559.65 L1047.86 561.69 L1047.63 563.71 L1047.37 565.72 L1047.08 567.71 L1046.76 569.69 L1046.41 571.64 L1046.04 573.58 L1045.63 575.51 L1045.2 577.41 L1044.73 579.31 L1044.24 581.18 L1043.72 583.03 L1043.17 584.87 L1042.58 586.69 L1041.97 588.49 L1041.32 590.28 L1040.64 592.04 L1039.92 593.79 L1039.18 595.52 L1038.4 597.22 L1037.58 598.91" fill="none" stroke="#0a0a0a" stroke-width="1.4" />
<path d="M881.06 689.27 L880.65 690.16 L880.34 690.92 L880.16 691.55 L880.1 692.06 L880.16 692.44 L880.35 692.69 L880.67 692.82 L881.12 692.83 L881.7 692.71 L882.43 692.47 L885.11 691.31 L887.8 690.11 L890.52 688.88 L893.25 687.62 L896 686.32 L898.77 684.99 L901.56 683.63 L904.37 682.24 L907.2 680.82 L910.04 679.37 L912.91 677.89 L915.79 676.39 L918.69 674.86 L921.61 673.3 L924.55 671.72 L927.5 670.12 L930.48 668.49 L933.47 666.84 L936.48 665.16 L939.5 663.47 L942.54 661.75 L945.6 660.01 L948.67 658.26 L951.75 656.48 L954.85 654.69 L957.97 652.87 L961.1 651.04 L964.24 649.18 L967.4 647.31 L970.58 645.41 L973.76 643.5 L976.97 641.56 L980.18 639.6 L983.41 637.62 L986.66 635.62 L989.91 633.59 L993.18 631.55 L996.47 629.47 L999.76 627.38 L1003.07 625.25 L1006.39 623.11 L1009.73 620.93 L1013.07 618.73 L1016.42 616.51 L1019.79 614.25 L1023.16 611.97 L1026.54 609.65 L1029.93 607.31 L1030.98 606.53 L1031.96 605.74 L1032.89 604.94 L1033.75 604.13 L1034.56 603.3 L1035.3 602.45 L1035.99 601.58 L1036.62 600.7 L1037.18 599.78 L1037.69 598.85" fill="none" stroke="#0a0a0a" stroke-width="1.5" />
<path d="M863.31 518.68 L863.32 518.04 L863.36 517.41 L863.45 516.82 L863.57 516.26 L863.74 515.74 L863.95 515.25 L864.19 514.81 L864.48 514.41 L864.8 514.06 L865.15 513.76 L865.53 513.51 L865.95 513.31 L866.39 513.16 L866.86 513.07 L867.35 513.03 L867.85 513.05 L868.38 513.12 L868.92 513.24 L869.47 513.42 L870.02 513.65 L870.58 513.93 L871.15 514.26 L871.71 514.64 L872.26 515.06 L872.81 515.52 L873.35 516.03 L873.87 516.58 L874.37 517.15 L874.86 517.76 L875.32 518.4 L875.75 519.06 L876.16 519.75 L876.54 520.45 L876.89 521.16 L877.2 521.88 L877.47 522.6 L877.71 523.33 L877.91 524.05 L878.07 524.77 L878.19 525.47 L890.18 608.36 L890.49 610.7 L890.78 613.02 L891.04 615.33 L891.27 617.62 L891.47 619.89 L891.65 622.15 L891.79 624.39 L891.91 626.62 L892.01 628.83 L892.07 631.03 L892.11 633.21 L892.12 635.37 L892.11 637.52 L892.07 639.65 L892 641.77 L891.9 643.87 L891.77 645.96 L891.62 648.03 L891.44 650.08 L891.24 652.12 L891 654.14 L890.74 656.15 L890.45 658.14 L890.13 660.11 L889.79 662.07 L889.41 664.01 L889.01 665.93 L888.57 667.84 L888.11 669.73 L887.62 671.61 L887.09 673.46 L886.54 675.3 L885.96 677.12 L885.34 678.92 L884.69 680.7 L884.01 682.47 L883.3 684.22 L882.55 685.94 L881.77 687.65 L880.96 689.34" fill="none" stroke="#0a0a0a" stroke-width="2.9" stroke-linecap="round"/>
<path d="M974.12 465.17 L974.21 465.38 L974.3 465.58 L974.38 465.79 L974.46 466 L974.54 466.21 L974.62 466.42 L974.69 466.63 L974.76 466.84 L974.83 467.05 L974.89 467.26 L974.95 467.46 L975.01 467.67 L975.06 467.88 L975.11 468.09 L975.16 468.29 L975.21 468.5 L975.25 468.7 L975.28 468.91 L975.32 469.11 L975.35 469.31 L981.7 511.45 L979.97 513.43 L978.19 515.33 L976.39 517.14 L974.58 518.85 L972.76 520.47 L970.93 521.99 L969.08 523.42 L967.22 524.75 L965.34 525.98 L963.45 527.13 L961.55 528.17 L959.64 529.12 L957.71 529.98 L955.77 530.74 L953.81 531.41 L951.84 531.98 L949.86 532.46 L947.87 532.84 L945.86 533.12 L943.84 533.31" fill="none" stroke="#0a0a0a" stroke-width="2.4" />
<path d="M861.47 518.46 L862.03 518.21 L862.64 518.08 L863.3 518.08 L864 518.19 L864.72 518.42 L865.46 518.77 L866.2 519.22 L866.94 519.78 L867.65 520.43 L868.33 521.17 L868.97 521.97 L869.56 522.84 L870.08 523.75 L870.53 524.69 L870.91 525.65 L871.2 526.6 L871.41 527.54 L871.52 528.46 L871.54 529.33 L871.47 530.14 L871.31 530.88 L871.05 531.54 L870.72 532.11 L870.3 532.57" fill="none" stroke="#0a0a0a" stroke-width="1.05" />
<path d="M871.9 531 L877.6 534" fill="none" stroke="#0a0a0a" stroke-width="1.6" />
<path d="M859.95 551.26 L859.88 551.89 L859.67 552.51 L859.31 553.1 L858.83 553.67 L858.22 554.19 L857.5 554.67 L856.68 555.08 L855.78 555.43 L854.8 555.71 L853.76 555.92 L852.69 556.04 L851.6 556.08 L850.51 556.04 L849.44 555.92 L848.4 555.71 L847.43 555.43 L846.52 555.08 L845.7 554.67 L844.98 554.19 L844.37 553.67 L843.89 553.1 L843.53 552.51 L843.32 551.89 L843.25 551.26" fill="none" stroke="#0a0a0a" stroke-width="1" />
<path d="M859.15 645.6 L859.08 646.22 L858.87 646.84 L858.52 647.44 L858.04 648.01 L857.43 648.53 L856.71 649 L855.89 649.42 L854.98 649.77 L854 650.05 L852.97 650.25 L851.89 650.37 L850.8 650.42 L849.71 650.37 L848.64 650.25 L847.61 650.05 L846.63 649.77 L845.72 649.42 L844.9 649 L844.18 648.53 L843.57 648.01 L843.09 647.44 L842.74 646.84 L842.53 646.22 L842.45 645.6" fill="none" stroke="#0a0a0a" stroke-width="1" />
<path d="M861.51 647 L862.09 646.74 L862.73 646.62 L863.42 646.62 L864.16 646.76 L864.91 647.02 L865.68 647.41 L866.45 647.91 L867.21 648.52 L867.94 649.23 L868.64 650.03 L869.28 650.89 L869.86 651.82 L870.37 652.78 L870.8 653.77 L871.14 654.77 L871.39 655.76 L871.54 656.72 L871.59 657.64 L871.54 658.5 L871.39 659.28 L871.14 659.99 L870.8 660.59 L870.37 661.08 L869.86 661.46" fill="none" stroke="#0a0a0a" stroke-width="1" />
</g>
</svg>
</body>
</html>
